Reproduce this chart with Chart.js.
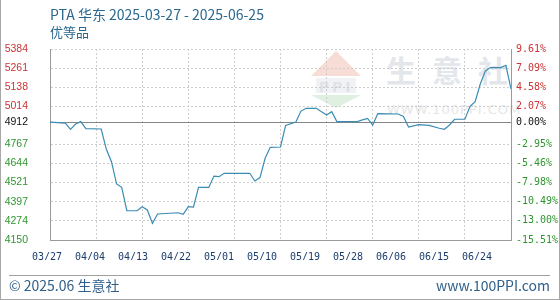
<!DOCTYPE html>
<html><head><meta charset="utf-8">
<script src="https://cdn.jsdelivr.net/npm/chart.js@4.4.1/dist/chart.umd.min.js"></script>
<style>
html,body{margin:0;padding:0;background:#fff;}
#wrap{position:relative;width:560px;height:300px;overflow:hidden;background:#fff;}
#wm{position:absolute;left:0;top:0;width:560px;height:300px;z-index:0;}
#c{position:absolute;left:0;top:0;z-index:1;}
.t{position:absolute;z-index:2;white-space:nowrap;font-family:"Noto Sans CJK SC","Noto Sans",sans-serif;line-height:16px;}
#title{left:50px;top:6px;font-size:14px;color:#2a6890;}
#sub{left:50px;top:24px;font-size:13px;color:#2a6890;}
#fl{left:9px;top:277px;font-size:14px;color:#2f5f8a;}
#fr{right:10px;top:277px;font-size:14px;color:#2f5f8a;}
#sep{position:absolute;left:9px;top:275px;width:541px;height:1px;background:#a0a0a0;z-index:2;}
#frame{position:absolute;left:0;top:0;width:558px;height:299px;border-left:1px solid #a8a8a8;border-right:1px solid #a8a8a8;border-bottom:1px solid #a8a8a8;z-index:3;}
.wmt{position:absolute;white-space:nowrap;font-family:"Noto Sans CJK SC",sans-serif;}
</style></head><body>
<div id="wrap">
  <div id="wm">
    <svg width="560" height="300" style="position:absolute;left:0;top:0">
      <polygon points="336,51 311,76 361,76" fill="#f8dcd6"/>
      <rect x="316" y="78" width="40" height="15" fill="#f1f2f5"/>
      <text x="336" y="91.5" text-anchor="middle" font-family="DejaVu Sans" font-weight="bold" font-size="14" fill="#dfe2e8" letter-spacing="3">PPI</text>
      <polygon points="311,95 361,95 336,108" fill="#dff0e2"/>
    </svg>
    <div class="wmt" style="left:386px;top:52px;font-size:30px;line-height:34px;letter-spacing:16px;color:#e3e6ea;font-weight:bold;">生意社</div>
    <div class="wmt" style="left:387px;top:102px;font-size:13px;line-height:16px;letter-spacing:1px;color:#e6e6e6;font-family:'DejaVu Sans',sans-serif;">WWW.100PPI.COM</div>
  </div>
  <canvas id="c" width="560" height="300"></canvas>
  <div class="t" id="title">PTA 华东 2025-03-27 - 2025-06-25</div>
  <div class="t" id="sub">优等品</div>
  <div id="sep"></div>
  <div class="t" id="fl">© 2025.06 生意社</div>
  <div class="t" id="fr">www.100PPI.com</div>
  <div id="frame"></div>
</div>
<script>
// ---- data ----
const startDate = '2025-03-27';
const dates = ['03-27','03-30','03-31','04-01','04-02','04-03','04-06','04-07','04-08','04-09','04-10','04-11','04-13','04-14','04-15','04-16','04-17','04-21','04-22','04-23','04-24','04-25','04-27','04-28','04-29','04-30','05-05','05-06','05-07','05-08','05-09','05-11','05-12','05-14','05-15','05-16','05-18','05-19','05-20','05-21','05-22','05-26','05-27','05-28','05-29','05-30','06-03','06-04','06-05','06-07','06-09','06-11','06-12','06-13','06-14','06-16','06-17','06-18','06-19','06-20','06-21','06-23','06-24','06-25'];
const prices = [4912,4905,4865,4899,4915,4869,4867,4736,4656,4512,4490,4339,4339,4365,4344,4258,4318,4326,4316,4365,4363,4490,4490,4563,4559,4581,4581,4531,4553,4678,4749,4751,4890,4912,4983,5001,5001,4979,4957,4979,4915,4915,4926,4936,4893,4967,4964,4948,4880,4895,4890,4872,4865,4893,4930,4930,5014,5044,5158,5242,5264,5264,5279,5126];
const basePrice = 4912;
const yTicks = [4150,4274,4397,4521,4644,4767,4912,5014,5138,5261,5384];
const pctLabels = ['-15.51%','-13.00%','-10.49%','-7.98%','-5.46%','-2.95%','0.00%','2.07%','4.58%','7.09%','9.61%'];
const xLabels = ['03/27','04/04','04/13','04/22','05/01','05/10','05/19','05/28','06/06','06/15','06/24'];
const totalDays = 90;
const gridStepDays = 9;

// ---- build ----
const t0 = Date.UTC(2025, 2, 27);
function dayOffset(md){ const [m,d] = md.split('-').map(Number); return Math.round((Date.UTC(2025, m-1, d) - t0) / 86400000); }
const points = dates.map((d,i)=>({x: dayOffset(d), y: prices[i]}));

const RED = '#cc3333', GREEN = '#2f962f', BLACK = '#111111';
function tickColor(ctx){ const v = ctx.tick ? ctx.tick.value : 0; return v > basePrice ? RED : (v < basePrice ? GREEN : BLACK); }

const LEFT_W = 50, RIGHT_W = 49, XL_H = 20;
// label axis range so that labels sit where the reference puts them
const lblFirstPx = 47, lblStep = 43;
const areaL = LEFT_W, areaR = 560 - RIGHT_W;
const xlMin = (areaL - lblFirstPx) / lblStep, xlMax = (areaR - lblFirstPx) / lblStep;

const baseline = {
  id: 'baseline',
  beforeDatasetsDraw(chart){
    const {ctx, chartArea, scales} = chart;
    const y = Math.round(scales.y.getPixelForValue(basePrice)) + 0.5;
    ctx.save(); ctx.strokeStyle = '#858585'; ctx.lineWidth = 1;
    ctx.beginPath(); ctx.moveTo(chartArea.left, y); ctx.lineTo(chartArea.right, y); ctx.stroke(); ctx.restore();
  }
};

new Chart(document.getElementById('c'), {
  type: 'line',
  data: { datasets: [{ data: points, borderColor: '#3b8cb4', borderWidth: 1.2, pointRadius: 0, tension: 0, fill: false }] },
  options: {
    responsive: false, animation: false, devicePixelRatio: 1,
    layout: { padding: { top: 49, bottom: 300 - 240 - XL_H, left: 0, right: 0 } },
    plugins: { legend: { display: false }, tooltip: { enabled: false } },
    scales: {
      x: {
        type: 'linear', position: 'bottom', weight: 0, min: 0, max: totalDays,
        afterBuildTicks: s => { const t=[]; for(let v=0; v<=totalDays; v+=gridStepDays) t.push({value:v}); s.ticks = t; },
        afterFit: s => { s.height = 0; },
        ticks: { display: false },
        grid: { color: '#cdcdcd', drawTicks: false, lineWidth: 1 },
        border: { color: '#9a9a9a', dash: [2,2] }
      },
      xl: {
        type: 'linear', position: 'bottom', weight: 1, min: xlMin, max: xlMax,
        afterBuildTicks: s => { s.ticks = xLabels.map((l,i)=>({value:i})); },
        afterFit: s => { s.height = XL_H; },
        grid: { display: false, drawTicks: false },
        border: { display: false },
        ticks: { autoSkip: false, maxRotation: 0, padding: 11, color: '#1b3d6e',
                 font: { family: 'DejaVu Sans Mono', size: 10 },
                 callback: (v, i) => xLabels[i] }
      },
      y: {
        type: 'linear', position: 'left', min: yTicks[0], max: yTicks[yTicks.length-1],
        afterBuildTicks: s => { s.ticks = yTicks.map(v=>({value:v})); },
        afterFit: s => { s.width = LEFT_W; },
        grid: { color: '#cdcdcd', drawTicks: false, lineWidth: 1 },
        border: { color: '#9a9a9a', dash: [2,2] },
        ticks: { autoSkip: false, padding: 22, color: tickColor,
                 font: { family: 'Liberation Sans', size: 10.5 },
                 callback: (v, i) => String(yTicks[i]) }
      },
      y2: {
        type: 'linear', position: 'right', min: yTicks[0], max: yTicks[yTicks.length-1],
        afterBuildTicks: s => { s.ticks = yTicks.map(v=>({value:v})); },
        afterFit: s => { s.width = RIGHT_W; },
        grid: { display: false, drawTicks: false },
        border: { color: '#9a9a9a' },
        ticks: { autoSkip: false, padding: 5, color: tickColor,
                 font: { family: 'DejaVu Sans Mono', size: 10 },
                 callback: (v, i) => pctLabels[i] }
      }
    }
  },
  plugins: [baseline]
});
</script>
</body></html>
